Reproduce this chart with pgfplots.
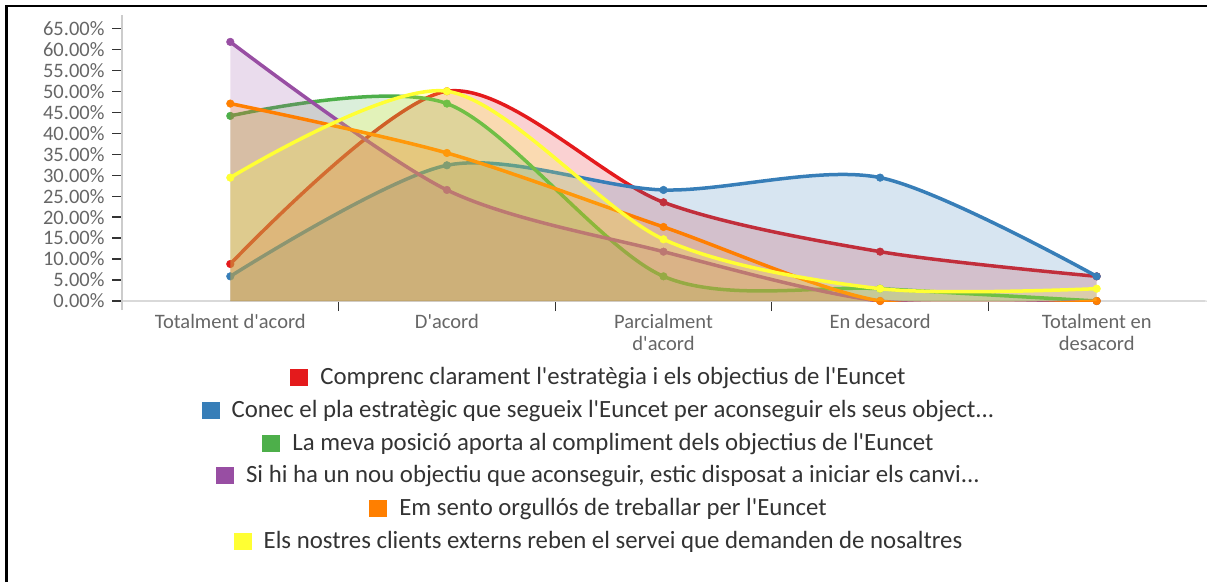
\documentclass[border=0pt]{standalone}
\usepackage{pgfplots}
\pgfplotsset{compat=1.18}
\usepackage{fontspec}
\setmainfont{Carlito}[Ligatures=TeXOff]
\definecolor{cred}{HTML}{E41A1C}
\definecolor{cblue}{HTML}{377EB8}
\definecolor{cgreen}{HTML}{4DAF4A}
\definecolor{cpurple}{HTML}{984EA3}
\definecolor{corange}{HTML}{FF7F00}
\definecolor{cyellow}{HTML}{FFFF33}
\pgfplotsset{
  areafill/.style={draw=none, fill=#1, fill opacity=0.2, smooth, forget plot},
  ser/.style={draw=#1, line width=3.5pt, smooth, mark=*, mark size=3.8pt,
     mark options={fill=#1, draw=#1, line width=0.5pt}},
}
\begin{document}
\begin{tikzpicture}[x=1pt,y=1pt]
\useasboundingbox (0,0) rectangle (1207,582);
\draw[line width=2.2pt] (6.5,0) -- (6.5,576) -- (1207,576);
\begin{axis}[
  at={(122pt,281pt)}, anchor=south west, scale only axis,
  width=1083pt, height=272.7pt,
  xmin=-0.5, xmax=4.5, ymin=0, ymax=65,
  clip mode=individual,
  axis x line*=bottom, axis y line*=left,
  x axis line style={draw=black!15, line width=1.2pt, -},
  y axis line style={draw=black!20, line width=1.2pt, -, shorten <=-9pt, shorten >=-13pt},
  xtick={0.5,1.5,2.5,3.5}, xticklabels={},
  extra x ticks={0,1,2,3,4},
  extra x tick labels={Totalment d'acord, D'acord, Parcialment\\d'acord, En desacord, Totalment en\\desacord},
  extra x tick style={tick style={draw=none}},
  ytick={0,5,...,65},
  yticklabel={\pgfmathprintnumber[fixed,fixed zerofill,precision=2]{\tick}\%},
  /pgf/number format/assume math mode=true,
  tick align=outside, major tick length=10pt,
  tick style={draw=black!80, line width=1.2pt},
  ticklabel style={font=\fontsize{20.5}{22}\selectfont, text=black!60},
  xticklabel style={align=center},
  yticklabel style={xshift=-4pt},
  legend style={at={(axis description cs:0.4395,-0.2567)}, anchor=north, draw=none, fill=none,
     inner sep=0pt, row sep=15.9pt, font=\fontsize{24.8}{26}\selectfont, text=black!80,
     nodes={inner sep=0pt, text height=13pt, text depth=4pt}},
  legend cell align=center,
  legend image code/.code={},
]
\draw[black!15, line width=1.2pt] (rel axis cs:1,0) -- ++(0,-10pt);
\addplot[areafill=cred] coordinates {(0,8.82) (1,50.00) (2,23.53) (3,11.76) (4,5.88)} \closedcycle;
\addplot[ser=cred] coordinates {(0,8.82) (1,50.00) (2,23.53) (3,11.76) (4,5.88)};
\addlegendentry{\textcolor{cred}{\rule[-1.5pt]{18pt}{17pt}}\hspace{12pt}Comprenc clarament l'estratègia i els objectius de l'Euncet}
\addplot[areafill=cblue] coordinates {(0,5.88) (1,32.35) (2,26.47) (3,29.41) (4,5.88)} \closedcycle;
\addplot[ser=cblue] coordinates {(0,5.88) (1,32.35) (2,26.47) (3,29.41) (4,5.88)};
\addlegendentry{\textcolor{cblue}{\rule[-1.5pt]{18pt}{17pt}}\hspace{12pt}Conec el pla estratègic que segueix l'Euncet per aconseguir els seus object...}
\addplot[areafill=cgreen] coordinates {(0,44.12) (1,47.06) (2,5.88) (3,2.94) (4,0)} \closedcycle;
\addplot[ser=cgreen] coordinates {(0,44.12) (1,47.06) (2,5.88) (3,2.94) (4,0)};
\addlegendentry{\textcolor{cgreen}{\rule[-1.5pt]{18pt}{17pt}}\hspace{12pt}La meva posició aporta al compliment dels objectius de l'Euncet}
\addplot[areafill=cpurple] coordinates {(0,61.76) (1,26.47) (2,11.76) (3,0) (4,0)} \closedcycle;
\addplot[ser=cpurple] coordinates {(0,61.76) (1,26.47) (2,11.76) (3,0) (4,0)};
\addlegendentry{\textcolor{cpurple}{\rule[-1.5pt]{18pt}{17pt}}\hspace{12pt}Si hi ha un nou objectiu que aconseguir, estic disposat a iniciar els canvi...}
\addplot[areafill=corange] coordinates {(0,47.06) (1,35.29) (2,17.65) (3,0) (4,0)} \closedcycle;
\addplot[ser=corange] coordinates {(0,47.06) (1,35.29) (2,17.65) (3,0) (4,0)};
\addlegendentry{\textcolor{corange}{\rule[-1.5pt]{18pt}{17pt}}\hspace{12pt}Em sento orgullós de treballar per l'Euncet}
\addplot[areafill=cyellow] coordinates {(0,29.41) (1,50.00) (2,14.71) (3,2.94) (4,2.94)} \closedcycle;
\addplot[ser=cyellow] coordinates {(0,29.41) (1,50.00) (2,14.71) (3,2.94) (4,2.94)};
\addlegendentry{\textcolor{cyellow}{\rule[-1.5pt]{18pt}{17pt}}\hspace{12pt}Els nostres clients externs reben el servei que demanden de nosaltres}
\end{axis}
\end{tikzpicture}
\end{document}
